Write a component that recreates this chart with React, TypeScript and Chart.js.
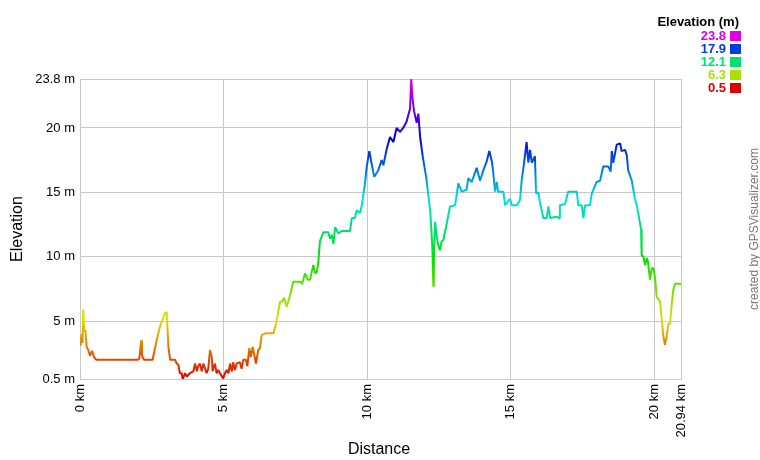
import React, { useEffect, useRef } from "react";
import { Chart, registerables } from "chart.js";

Chart.register(...registerables);

const distanceKm = [
  0.02, 0.05, 0.09, 0.11, 0.15, 0.19, 0.23, 0.28, 0.35, 0.42, 0.49, 0.56,
  2.02, 2.07, 2.13, 2.16, 2.23, 2.53, 2.67, 2.79, 2.90, 2.96, 3.02,
  3.08, 3.14, 3.31, 3.37, 3.43, 3.48, 3.54, 3.58, 3.66, 3.72, 3.83, 3.95,
  4.01, 4.07, 4.12, 4.18, 4.24, 4.30, 4.36, 4.41, 4.47, 4.53, 4.59, 4.62,
  4.70, 4.76, 4.82, 4.88, 4.99, 5.05, 5.11, 5.17, 5.23, 5.29, 5.34, 5.40,
  5.46, 5.57, 5.63, 5.69, 5.78, 5.83, 5.90, 5.95, 6.02, 6.06, 6.13, 6.21,
  6.27, 6.33, 6.45,
  6.74, 6.83, 6.97, 7.03, 7.11, 7.20, 7.32, 7.43, 7.67, 7.74,
  7.84, 7.94, 8.01, 8.13, 8.19, 8.25, 8.30, 8.36, 8.48, 8.65, 8.71, 8.77,
  8.83, 8.89, 9.00, 9.12, 9.41, 9.47, 9.58, 9.64, 9.76, 9.82, 9.87, 9.93,
  9.99, 10.08, 10.16, 10.25, 10.39, 10.51, 10.57, 10.69, 10.80, 10.92, 11.03, 11.15,
  11.26, 11.38, 11.50, 11.54, 11.59, 11.64, 11.73, 11.79, 11.85, 11.94, 12.06, 12.14,
  12.20, 12.25, 12.28, 12.31, 12.33, 12.37, 12.43, 12.47, 12.54, 12.60, 12.66, 12.78,
  12.89, 13.07, 13.13, 13.18, 13.30, 13.47, 13.53, 13.65, 13.82, 13.94, 14.05, 14.17,
  14.26, 14.35, 14.40, 14.46, 14.52, 14.57, 14.75, 14.81, 14.98, 15.05, 15.22, 15.33,
  15.39, 15.47, 15.56, 15.62, 15.68, 15.74, 15.85, 15.89, 15.97, 16.03, 16.09, 16.14,
  16.26, 16.32, 16.38, 16.61, 16.70, 16.72, 16.90, 17.01, 17.31, 17.36, 17.48, 17.54,
  17.60, 17.77, 17.83, 18.00, 18.12, 18.23, 18.41, 18.49, 18.53, 18.58, 18.70, 18.82,
  18.87, 18.99, 19.05, 19.10, 19.22, 19.28, 19.34, 19.40, 19.49, 19.55, 19.57, 19.63,
  19.69, 19.75, 19.79, 19.86, 19.92, 19.98, 20.04, 20.09, 20.21, 20.27, 20.32, 20.38,
  20.44, 20.50, 20.56, 20.62, 20.67, 20.73, 20.94,
];

const elevationM = [
  3.1, 4.0, 3.3, 5.9, 4.2, 4.3, 3.0, 2.8, 2.3, 2.7, 2.2, 2.0,
  2.0, 2.1, 3.5, 2.3, 2.0, 2.0, 3.5, 4.6, 5.3, 5.6, 5.7,
  3.0, 2.0, 2.0, 1.7, 1.6, 0.95, 0.95, 0.5, 0.95, 0.7, 0.95, 1.1,
  1.7, 1.1, 1.5, 1.7, 1.1, 1.7, 1.3, 0.95, 1.3, 2.75, 2.2, 1.1,
  1.7, 0.95, 1.2, 0.95, 0.55, 0.95, 1.2, 0.95, 1.7, 1.1, 1.8, 1.2,
  1.7, 1.8, 1.3, 2.0, 2.0, 1.5, 2.9, 2.2, 3.0, 2.5, 1.7, 2.75,
  2.9, 3.9, 4.05,
  4.05, 4.8, 6.5, 6.5, 6.8, 6.1, 7.0, 8.05, 8.05, 7.9,
  8.7, 8.2, 8.2, 9.35, 8.7, 8.8, 9.5, 11.2, 11.9, 11.9, 11.4, 11.7,
  11.0, 12.3, 11.8, 12.0, 12.0, 13.0, 13.0, 13.6, 13.4, 14.0, 14.8, 15.7,
  17.0, 18.2, 17.25, 16.2, 16.7, 17.5, 17.1, 18.4, 19.3, 18.9, 20.0, 19.7,
  20.0, 20.5, 21.5, 23.8, 22.2, 21.3, 20.4, 21.1, 19.3, 17.8, 16.2, 14.7,
  13.6, 11.8, 10.5, 7.7, 10.0, 12.7, 11.55, 11.0, 10.5, 11.2, 11.3, 12.6,
  13.9, 14.0, 14.9, 15.7, 15.05, 15.2, 16.1, 15.8, 16.9, 15.9, 16.7, 17.4,
  18.2, 17.4, 16.5, 15.05, 15.8, 15.05, 15.05, 14.0, 14.5, 14.0, 14.0, 14.4,
  15.95, 17.25, 18.9, 17.3, 18.3, 17.3, 17.8, 14.9, 15.0, 14.1, 13.6, 13.0,
  13.0, 13.9, 13.0, 13.1, 13.0, 14.0, 14.1, 15.05, 15.05, 14.0, 14.0, 13.0,
  14.0, 14.0, 14.9, 15.8, 15.9, 17.0, 17.0, 16.6, 18.2, 17.3, 18.7, 18.8,
  18.2, 18.3, 17.9, 16.7, 15.95, 15.2, 14.4, 14.0, 12.85, 12.1, 10.1, 10.0,
  9.35, 9.9, 9.6, 8.2, 9.1, 9.1, 8.3, 6.9, 6.5, 5.1, 3.9, 3.15,
  3.8, 4.8, 4.8, 6.4, 7.4, 7.9, 7.9,
];

const yTicks = [0.5, 5, 10, 15, 20, 23.8];
const xTicks = [0, 5, 10, 15, 20, 20.94];
const legendValues = [23.8, 17.9, 12.1, 6.3, 0.5];

const MIN_E = 0.5;
const MAX_E = 23.8;

function hueColor(v: number): string {
  const t = Math.max(0, Math.min(1, (v - MIN_E) / (MAX_E - MIN_E)));
  return `hsl(${(300 * t).toFixed(1)}, 100%, 44%)`;
}

const FONT = "'Liberation Sans', Arial, sans-serif";

const overlayPlugin = {
  id: "overlay",
  afterDraw(chart: any) {
    const ctx = chart.ctx as CanvasRenderingContext2D;
    ctx.save();
    ctx.fillStyle = "#000";
    ctx.font = `16px ${FONT}`;
    ctx.textAlign = "center";
    ctx.textBaseline = "middle";
    ctx.fillText("Distance", 379, 450);
    ctx.save();
    ctx.translate(18, 229);
    ctx.rotate(-Math.PI / 2);
    ctx.fillText("Elevation", 0, 0);
    ctx.restore();

    ctx.save();
    ctx.fillStyle = "#777";
    ctx.font = `12px ${FONT}`;
    ctx.translate(755, 229);
    ctx.rotate(-Math.PI / 2);
    ctx.fillText("created by GPSVisualizer.com", 0, 0);
    ctx.restore();

    ctx.font = `bold 13px ${FONT}`;
    ctx.textAlign = "right";
    ctx.fillStyle = "#000";
    ctx.fillText("Elevation (m)", 739, 22);
    legendValues.forEach((v, i) => {
      const cy = 36 + i * 13;
      const col = hueColor(v);
      ctx.fillStyle = col;
      ctx.fillText(v.toFixed(1), 726, cy);
      ctx.fillRect(730, cy - 5, 11, 10);
    });
    ctx.restore();
  },
};

export default function App() {
  const ref = useRef<HTMLCanvasElement>(null);

  useEffect(() => {
    if (!ref.current) return;
    const points = distanceKm.map((d, i) => ({ x: d, y: elevationM[i] }));
    const chart = new Chart(ref.current, {
      type: "line",
      data: {
        datasets: [
          {
            data: points,
            borderWidth: 2,
            pointRadius: 0,
            tension: 0,
            fill: false,
            borderJoinStyle: "bevel",
            borderColor: (c: any) => {
              const ch = c.chart;
              const ca = ch.chartArea;
              if (!ca) return "#e00000";
              const g = ch.ctx.createLinearGradient(0, ca.bottom, 0, ca.top);
              const n = 30;
              for (let i = 0; i <= n; i++) {
                g.addColorStop(i / n, hueColor(MIN_E + (MAX_E - MIN_E) * (i / n)));
              }
              return g;
            },
          },
        ],
      },
      options: {
        responsive: false,
        devicePixelRatio: 1,
        animation: false,
        layout: { padding: { left: 0, top: 79, right: 79, bottom: 0 } },
        plugins: {
          legend: { display: false },
          tooltip: { enabled: false },
          title: { display: false },
        },
        scales: {
          x: {
            type: "linear",
            min: 0,
            max: 20.94,
            afterBuildTicks: (s: any) => {
              s.ticks = xTicks.map((v) => ({ value: v }));
            },
            afterFit: (s: any) => {
              s.height = 81;
            },
            ticks: {
              autoSkip: false,
              minRotation: 90,
              maxRotation: 90,
              padding: 5,
              color: "#000",
              font: { family: FONT, size: 13 },
              callback: (v: any) => `${v} km`,
            },
            grid: { color: "#c8c8c8", drawTicks: false, lineWidth: 1 },
            border: { color: "#c8c8c8" },
          },
          y: {
            type: "linear",
            min: MIN_E,
            max: MAX_E,
            afterBuildTicks: (s: any) => {
              s.ticks = yTicks.map((v) => ({ value: v }));
            },
            afterFit: (s: any) => {
              s.width = 80;
            },
            ticks: {
              autoSkip: false,
              padding: 5,
              color: "#000",
              font: { family: FONT, size: 13 },
              callback: (v: any) => `${v} m`,
            },
            grid: { color: "#c8c8c8", drawTicks: false, lineWidth: 1 },
            border: { color: "#c8c8c8" },
          },
        },
      },
      plugins: [overlayPlugin],
    });
    return () => chart.destroy();
  }, []);

  return (
    <div style={{ position: "absolute", left: 0, top: 0, width: 760, height: 460, background: "#fff" }}>
      <canvas ref={ref} width={760} height={460} />
    </div>
  );
}
